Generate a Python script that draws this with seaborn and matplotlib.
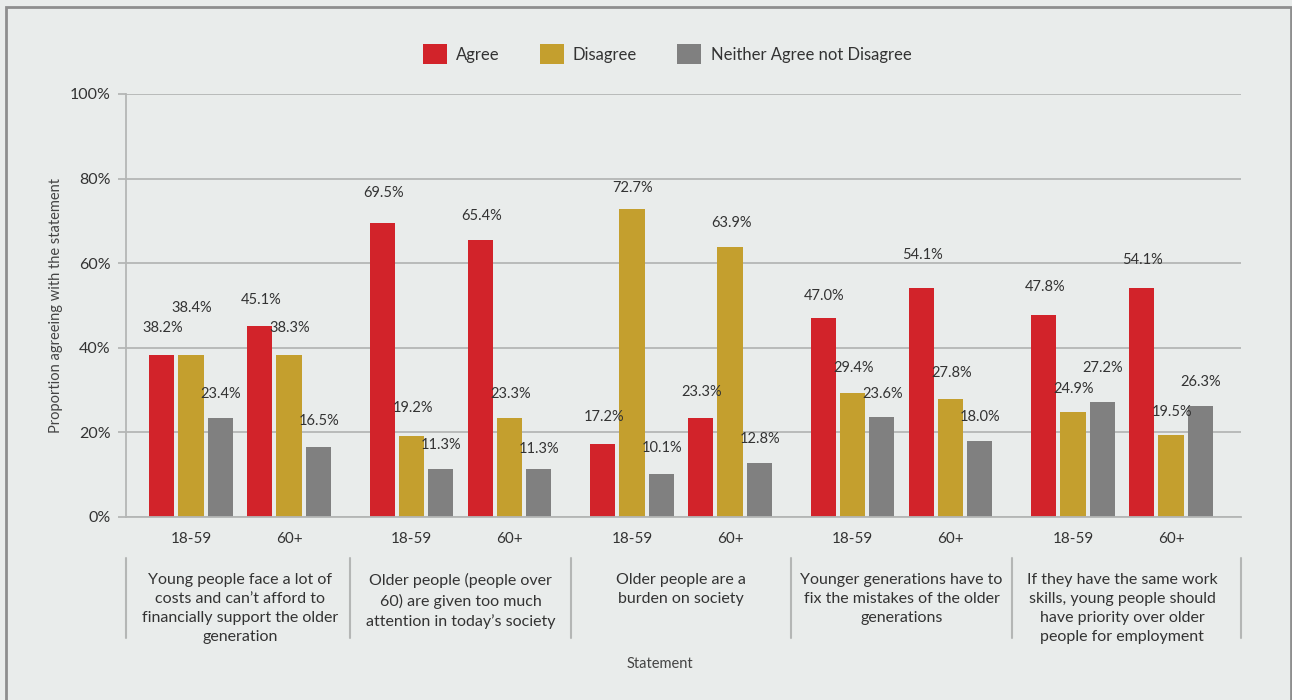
import matplotlib
matplotlib.use("Agg")
import matplotlib.pyplot as plt
import matplotlib.transforms as mtransforms
from matplotlib.patches import Rectangle
import numpy as np
import pandas as pd
import seaborn as sns

# ---- data ----
statements = [
    "Young people face a lot of\ncosts and can\u2019t afford to\nfinancially support the older\ngeneration",
    "Older people (people over\n60) are given too much\nattention in today\u2019s society",
    "Older people are a\nburden on society",
    "Younger generations have to\nfix the mistakes of the older\ngenerations",
    "If they have the same work\nskills, young people should\nhave priority over older\npeople for employment",
]
age_groups = ["18-59", "60+"]
responses = ["Agree", "Disagree", "Neither Agree not Disagree"]

# one entry per (statement, age group), in statement order
agree = [38.2, 45.1, 69.5, 65.4, 17.2, 23.3, 47.0, 54.1, 47.8, 54.1]
disagree = [38.4, 38.3, 19.2, 23.3, 72.7, 63.9, 29.4, 27.8, 24.9, 19.5]
neither = [23.4, 16.5, 11.3, 11.3, 10.1, 12.8, 23.6, 18.0, 27.2, 26.3]

yticks = [0, 20, 40, 60, 80, 100]

# ---- styling ----
BG = "#E9ECEB"
TEXT = "#333333"
GRID = "#B4B6B5"
palette = {"Agree": "#D2232A", "Disagree": "#C49F2E",
           "Neither Agree not Disagree": "#808080"}
FONT = ["Lato", "DejaVu Sans"]

# vertical offsets (pixels) of value labels above their bars
label_lift = {
    "Agree":    [27, 26, 30, 24, 27, 26, 22, 33, 28, 28],
    "Disagree": [47, 27, 28, 24, 21, 24, 25, 26, 23, 23],
    "Neither Agree not Disagree": [24, 26, 24, 20, 26, 24, 23, 24, 34, 24],
}

STEP = 2.25  # spacing between statement blocks, in age-group units

rows = []
series = {"Agree": agree, "Disagree": disagree,
          "Neither Agree not Disagree": neither}
for resp in responses:
    for i, v in enumerate(series[resp]):
        s, a = divmod(i, 2)
        rows.append({"pos": s * STEP + a, "statement": s, "age": age_groups[a],
                     "response": resp, "value": v, "idx": i})
df = pd.DataFrame(rows)

sns.set_theme(style="white")
plt.rcParams["font.family"] = FONT
plt.rcParams["text.color"] = TEXT

W, H = 1292, 700
fig = plt.figure(figsize=(W / 100, H / 100), dpi=100, facecolor=BG)

ax_l, ax_r, ax_t, ax_b = 126, 1241, 94, 517
ax = fig.add_axes([ax_l / W, 1 - ax_b / H, (ax_r - ax_l) / W, (ax_b - ax_t) / H])
ax.set_facecolor(BG)

sns.barplot(data=df, x="pos", y="value", hue="response", hue_order=responses,
            palette=palette, native_scale=True, width=0.888, gap=0.138,
            errorbar=None, saturation=1, linewidth=0, ax=ax)

x_left = (ax_l - 191) / 98
x_right = (ax_r - 191) / 98
ax.set_xlim(x_left, x_right)
ax.set_ylim(0, 100)

# gridlines and axes
ax.set_yticks(yticks)
ax.set_yticklabels([f"{t}%" for t in yticks])
ax.yaxis.grid(True, color=GRID, linewidth=1.3)
ax.set_axisbelow(True)
for side in ("top", "right"):
    ax.spines[side].set_visible(False)
for side in ("left", "bottom"):
    ax.spines[side].set_color(GRID)
    ax.spines[side].set_linewidth(1.3)
ax.tick_params(axis="y", length=6, width=1.3, color=GRID, pad=5,
               labelsize=11.5, labelcolor=TEXT, left=True)

positions = sorted(df["pos"].unique())
ax.set_xticks(positions)
ax.set_xticklabels([age_groups[i % 2] for i in range(len(positions))])
ax.tick_params(axis="x", length=0, pad=11, labelsize=11, labelcolor=TEXT)

ax.set_xlabel("")
ax.set_ylabel("Proportion agreeing with the statement", fontsize=10.5,
              color="#444444", labelpad=5)

# value labels
for container, resp in zip(ax.containers, responses):
    sub = df[df["response"] == resp].sort_values("pos")
    for bar, (_, r) in zip(container, sub.iterrows()):
        xc = bar.get_x() + bar.get_width() / 2
        ax.annotate(f"{r['value']:.1f}%", (xc, bar.get_height()),
                    xytext=(1, label_lift[resp][r["idx"]]),
                    textcoords="offset pixels", ha="center", va="center",
                    fontsize=10.5, color=TEXT)

# statement block labels with separators below the axis
blend = mtransforms.blended_transform_factory(ax.transData, fig.transFigure)
seps = [x_left] + [s * STEP + 1.625 for s in range(len(statements) - 1)] + [x_right]
for xs in seps:
    ax.plot([xs, xs], [1 - 558 / H, 1 - 638 / H], transform=blend,
            color=GRID, linewidth=1.5, clip_on=False)
for s, txt in enumerate(statements):
    ax.text(s * STEP + 0.5, 1 - 573 / H, txt, transform=blend, ha="center",
            va="top", fontsize=11.5, color=TEXT, linespacing=1.45)

fig.text(660 / W, 1 - 664 / H, "Statement", ha="center", va="center",
         fontsize=10.5, color="#444444")

# legend
sns.move_legend(ax, "center", bbox_to_anchor=(667 / W, 1 - 54 / H),
                bbox_transform=fig.transFigure, ncol=3, frameon=False,
                title=None, fontsize=12, handlelength=1.45, handleheight=1.45,
                handletextpad=0.55, columnspacing=2.4)

# outer frame
fig.patches.append(Rectangle((6 / W, -0.05), (W - 7) / W, 1 - 7 / H + 0.05,
                             transform=fig.transFigure, fill=False,
                             edgecolor="#8E8E8E", linewidth=2))

fig.savefig("out.png", dpi=100, facecolor=BG)
